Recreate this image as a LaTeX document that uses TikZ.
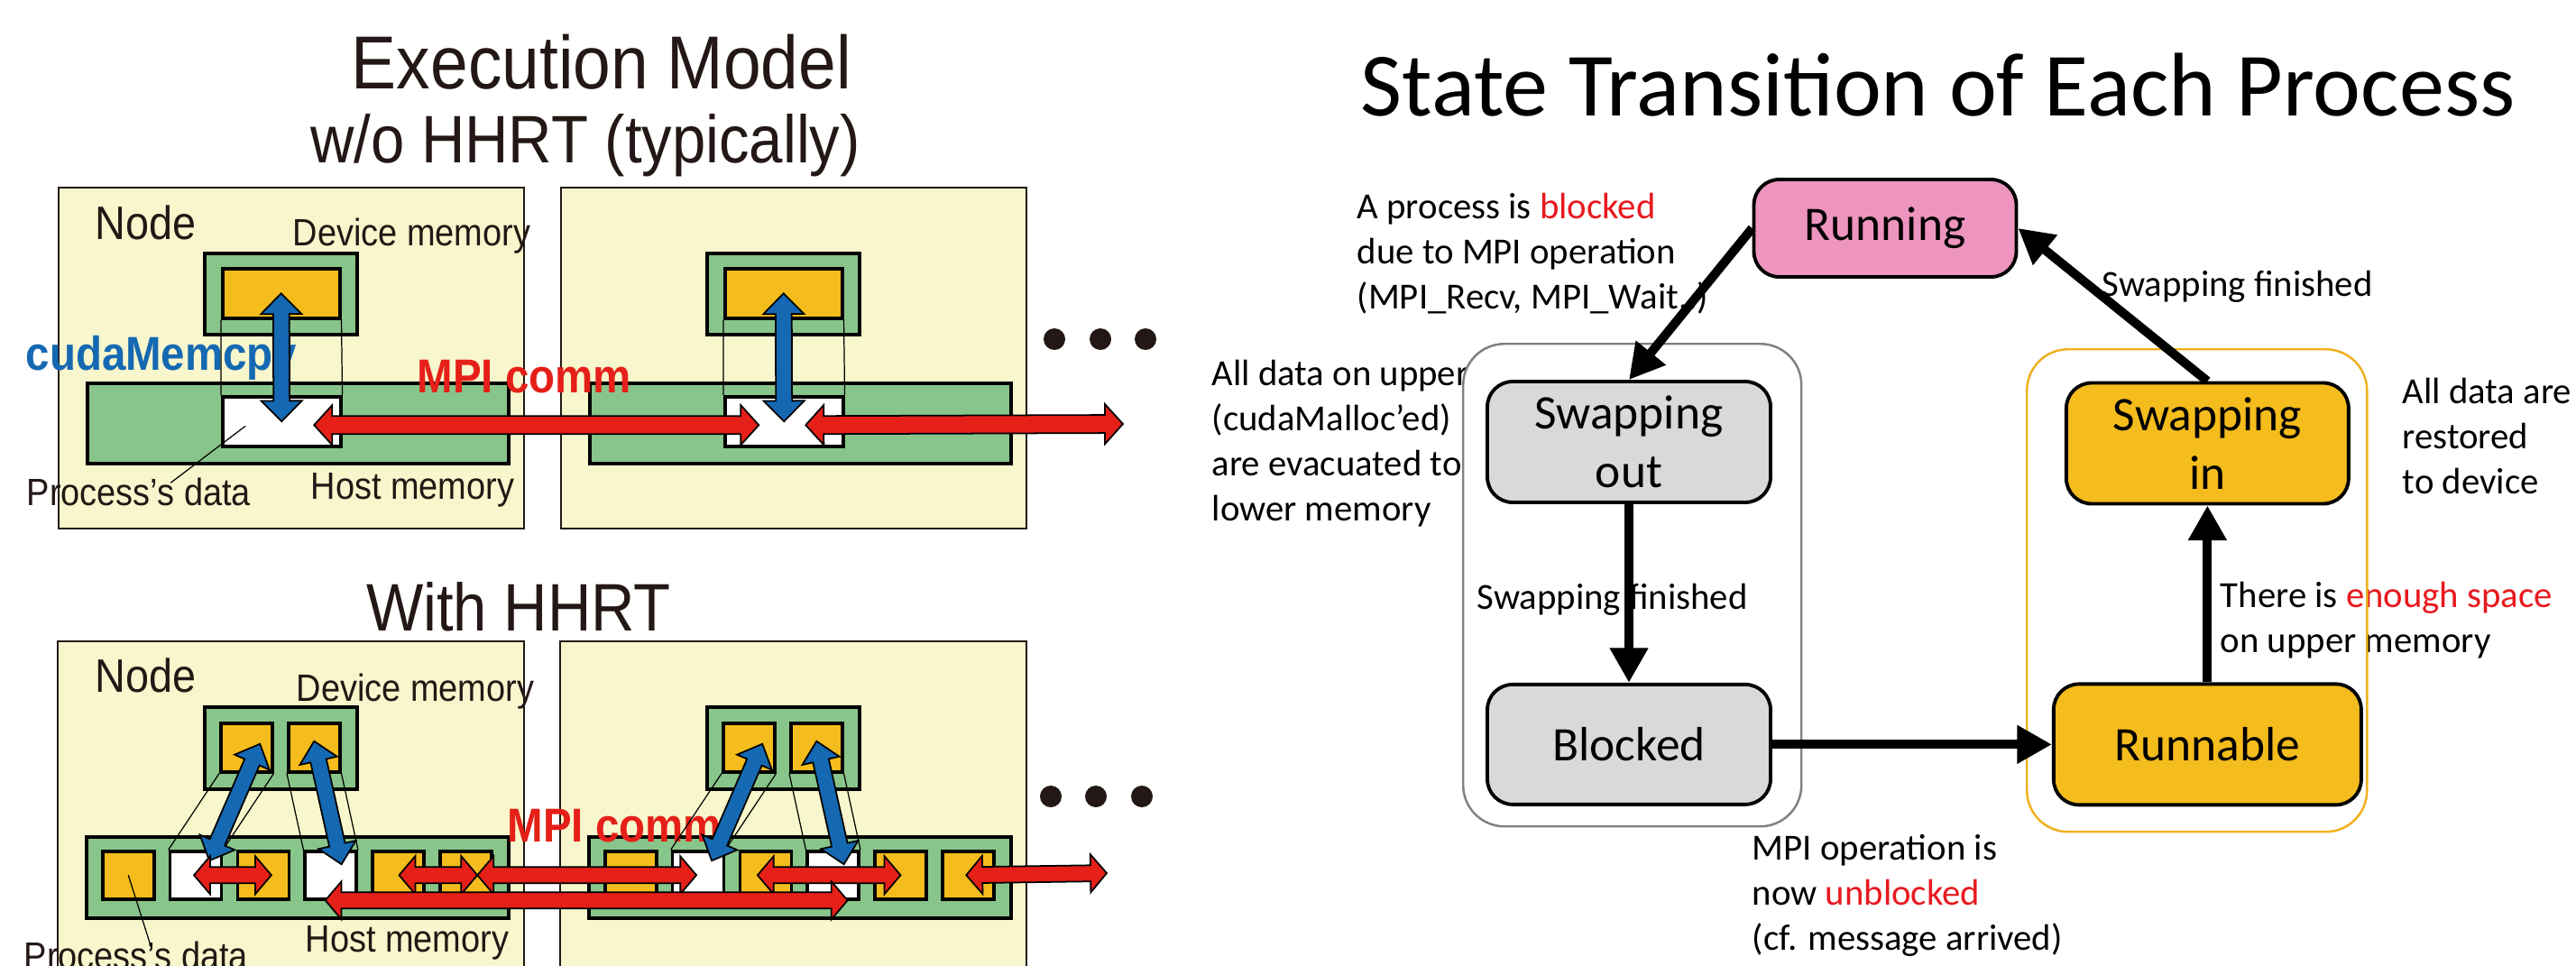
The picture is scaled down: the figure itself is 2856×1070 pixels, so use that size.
\documentclass[tikz,border=0pt]{standalone}
\usepackage{fontspec}
\setmainfont{Carlito}
\newfontfamily\hvfont[FakeStretch=0.9]{Liberation Sans}
\usepackage{xcolor}
\usepackage{tikz}
\usetikzlibrary{positioning}
\usetikzlibrary{calc,arrows.meta}

\definecolor{nodebg}{RGB}{248,246,204}
\definecolor{memgreen}{RGB}{136,197,138}
\definecolor{datayellow}{RGB}{244,188,28}
\definecolor{cudablue}{RGB}{21,105,178}
\definecolor{mpired}{RGB}{229,32,25}
\definecolor{runpink}{RGB}{237,149,190}
\definecolor{waitgrey}{RGB}{217,217,217}
\definecolor{hlred}{RGB}{232,25,30}
\definecolor{ink}{RGB}{35,24,21}
\definecolor{grpgrey}{RGB}{128,128,128}
\definecolor{grporange}{RGB}{240,176,30}

\tikzset{
  fat shaft/.store in=\fatS, fat head/.store in=\fatH, fat tip/.store in=\fatK,
  redfat/.style={draw=black, line width=0.5pt, fill=mpired, fat shaft=2.85pt, fat head=6.3pt, fat tip=5.7pt},
  redfatlow/.style={redfat, fat shaft=2.55pt, fat head=6pt, fat tip=5.1pt},
  bluefat/.style={draw=black, line width=0.5pt, fill=cudablue, fat shaft=2.55pt, fat head=6.4pt, fat tip=6.5pt},
  hostbox/.style={draw=ink, line width=0.6pt, fill=nodebg, inner sep=0pt, anchor=north west},
  mem/.style={draw=black, line width=1.1pt, fill=memgreen, inner sep=0pt, anchor=north west},
  blk/.style={draw=black, line width=1pt, fill=datayellow, inner sep=0pt, anchor=north west,
    minimum width=5.7mm, minimum height=5.4mm},
  link/.style={draw=black, line width=0.35pt},
  dot/.style={circle, fill=ink, inner sep=0pt, minimum size=2.4mm},
  hvtitle/.style={font=\hvfont\fontsize{23.7}{28}\selectfont, text=ink, inner sep=0pt, anchor=base},
  hvsub/.style={font=\hvfont\fontsize{21.2}{25}\selectfont, text=ink, inner sep=0pt, anchor=base},
  hvnode/.style={font=\hvfont\fontsize{14.8}{17}\selectfont, text=ink, inner sep=0pt, anchor=base west},
  hvmem/.style={font=\hvfont\fontsize{12}{14}\selectfont, text=ink, inner sep=0pt, anchor=base west},
  hvcmd/.style={font=\hvfont\bfseries\fontsize{15}{18}\selectfont, inner sep=0pt, anchor=base west},
  rttl/.style={font=\fontsize{28.5}{34}\selectfont, inner sep=0pt, anchor=base west},
  note/.style={font=\fontsize{11.6}{14.2}\selectfont, inner sep=0pt, anchor=base west},
  state/.style={draw=black, line width=1.1pt, rounded corners=8pt, align=center, inner sep=0pt,
    font=\fontsize{15.2}{18.5}\selectfont},
  grp/.style={rounded corners=13pt, line width=0.7pt, inner sep=0pt, anchor=north west},
  trans/.style={-{Triangle[length=11pt,width=11.5pt]}, line width=2.85pt}
}

\newcommand\fatarrow[3]{%
  \path let \p1=(#2), \p2=(#3) in \pgfextra{\xdef\fax{\x1}\xdef\fay{\y1}\xdef\fbx{\x2}\xdef\fby{\y2}};
  \pgfmathsetmacro\fang{atan2(\fby-\fay,\fbx-\fax)}%
  \pgfmathsetmacro\flen{veclen(\fbx-\fax,\fby-\fay)}%
  \draw[#1,shift={(\fax,\fay)},rotate=\fang] (0pt,0pt) -- (\fatK,\fatH) -- (\fatK,\fatS)
    -- ({\flen pt-\fatK},\fatS) -- ({\flen pt-\fatK},\fatH) -- ({\flen pt},0pt)
    -- ({\flen pt-\fatK},-\fatH) -- ({\flen pt-\fatK},-\fatS) -- (\fatK,-\fatS)
    -- (\fatK,-\fatH) -- cycle;}

\begin{document}
\begin{tikzpicture}[x=0.1mm,y=-0.1mm]
\useasboundingbox (0,0) rectangle (2856,1070);
\clip (0,0) rectangle (2856,1070);
\fill[white] (0,0) rectangle (2856,1070);

% execution model
\node[hvtitle] (exec) at (667,98) {Execution Model};
\node[hvsub] (wohhrt) at (649,180) {w/o HHRT (typically)};
\node[hvsub] (withhhrt) at (575,699) {With HHRT};

\foreach \m/\dx in {1/0,2/557}{
  \node[hostbox, minimum width=51.6mm, minimum height=37.8mm] (t\m box) at (64+\dx,207) {};
  \node[mem, minimum width=16.9mm, minimum height=9mm] (t\m dev) at (225+\dx,279) {};
  \node[blk, minimum width=13mm, minimum height=5.5mm] (t\m y) at (245+\dx,296) {};
  \node[mem, minimum width=46.7mm, minimum height=8.9mm] (t\m host) at (95+\dx,423) {};
  \node[blk, fill=white, minimum width=13.1mm, minimum height=5.5mm] (t\m d) at (245+\dx,438) {};

  \node[hostbox, minimum width=51.7mm, minimum height=40mm] (b\m box) at (63+\dx,710) {};
  \node[mem, minimum width=16.9mm, minimum height=9.1mm] (b\m dev) at (225+\dx,782) {};
  \node[blk] (b\m ya) at (243+\dx,800) {};
  \node[blk] (b\m yb) at (318+\dx,800) {};
  \node[mem, minimum width=46.8mm, minimum height=9mm] (b\m host) at (94+\dx,926) {};
  \foreach \j/\c in {1/datayellow,2/white,3/datayellow,4/white,5/datayellow,6/datayellow}
    \node[blk, fill=\c, minimum height=5.3mm] (b\m k\j) at ({112+74.8*(\j-1)+\dx},942) {};
}

\node[hvnode] (nodelbl1) at (105,265) {Node};
\node[hvmem] (devlbl1) at (324,272) {Device memory};
\node[hvmem] (hostlbl1) at (344,553) {Host memory};
\node[hvmem] (datalbl1) at (29,560) {Process’s data};
\node[hvcmd, text=cudablue] (cudalbl) at (28,410) {cudaMemcpy};
\node[hvcmd, text=mpired] (mpilbl1) at (462,435) {MPI comm};

\node[hvnode] (nodelbl2) at (105,767) {Node};
\node[hvmem] (devlbl2) at (328,777) {Device memory};
\node[hvmem] (hostlbl2) at (338,1055) {Host memory};
\node[hvmem] (datalbl2) at (26,1074) {Process’s data};
\node[hvcmd, text=mpired] (mpilbl2) at (562,933) {MPI comm};

\foreach \m in {1,2}{
  \draw[link] (t\m y.south west) -- (t\m d.north west) (t\m y.south east) -- (t\m d.north east);
  \draw[link] (b\m ya.south west) -- (b\m k2.north west) (b\m ya.south east) -- (b\m k2.north east)
    (b\m yb.south west) -- (b\m k4.north west) (b\m yb.south east) -- (b\m k4.north east);
}
\draw[link] ($(t1d.center)+(-40,5)$) -- ++(-83,63);
\draw[link] (b1k1.center) -- ++(26,82);

\foreach \m in {1,2}{
  \fatarrow{bluefat}{t\m y.center}{t\m d.center}
  \fatarrow{bluefat, fat head=6pt, fat tip=6.3pt}{$(b\m ya.center)+(15,-4)$}{$(b\m k2.center)+(15,-16)$}
  \fatarrow{bluefat, fat head=6pt, fat tip=6.3pt}{$(b\m yb.center)+(0,-7)$}{$(b\m k4.center)+(12,-12)$}
}

\coordinate (mpiend1) at (1245,470);
\coordinate (mpiend2) at (1227,968);
\fatarrow{redfat}{$(t1d.center)+(36,4)$}{$(t2d.center)+(-28,4)$}
\fatarrow{redfat}{$(t2d.center)+(24,4)$}{mpiend1}

\fatarrow{redfatlow}{$(b1k2.center)+(-2,0)$}{$(b1k3.center)+(9,0)$}
\fatarrow{redfatlow}{$(b1k5.center)+(1,0)$}{$(b1k6.center)+(13,0)$}
\fatarrow{redfatlow}{$(b1k6.center)+(13,0)$}{$(b2k2.center)+(-2,0)$}
\fatarrow{redfatlow}{$(b2k3.center)+(-9,0)$}{b2k5.center}
\fatarrow{redfatlow}{$(b2k6.center)+(-2,0)$}{mpiend2}
\fatarrow{redfatlow}{$(b1k4.center)+(-6,28)$}{$(b2k4.center)+(16,28)$}

\foreach \m/\x/\y in {1/1169/376,2/1220/376,3/1270/376,4/1165/883,5/1215/883,6/1266/883}
  \node[dot] (dot\m) at (\x,\y) {};

% state transition
\node[rttl] (sttitle) at (1508,128) {State Transition of Each Process};

\foreach \t [count=\r from 0] in {A process is \textcolor{hlred}{blocked}, due to MPI operation, {(MPI\_Recv, MPI\_Wait..)}}
  \node[note] (why\r) at (1504,{242+50*\r}) {\t};
\foreach \t [count=\r from 0] in {All data on upper, {(cudaMalloc’ed)}, are evacuated to, lower memory}
  \node[note] (evac\r) at (1343,{427+50*\r}) {\t};
\foreach \t [count=\r from 0] in {All data are, restored, to device}
  \node[note] (rest\r) at (2663,{447+50*\r}) {\t};
\foreach \t [count=\r from 0] in {MPI operation is, now \textcolor{hlred}{unblocked}, {(cf. message arrived)}}
  \node[note] (unbl\r) at (1942,{953+50*\r}) {\t};
\foreach \t [count=\r from 0] in {There is \textcolor{hlred}{enough space}, on upper memory}
  \node[note] (space\r) at (2461,{673+50*\r}) {\t};

\node[grp, draw=grpgrey, fill=white, minimum width=37.5mm, minimum height=53.5mm] (outgrp) at (1621,380) {};
\node[grp, draw=grporange, minimum width=37.7mm, minimum height=53.5mm] (ingrp) at (2246,386) {};

\node[state, fill=runpink, minimum width=29.1mm, minimum height=10.8mm] (running) at (2090,253) {Running};
\node[state, fill=waitgrey, minimum width=31.4mm, minimum height=13.4mm] (swapout) at (1806,490) {Swapping\\out};
\node[state, fill=waitgrey, minimum width=31.4mm, minimum height=13.3mm] (blocked) [below=19.8mm of swapout] {Blocked};
\node[state, fill=datayellow, minimum width=34.1mm, minimum height=13.4mm] (runnable) [right=31mm of blocked] {Runnable};
\node[state, fill=datayellow, minimum width=31.3mm, minimum height=13.4mm] (swapin) [above=19.6mm of runnable] {Swapping\\in};

\node[note] (fin1) at (1637,675) {Swapping finished};
\node[note] (fin2) at (2330,328) {Swapping finished};

\draw[trans] (running.west) -- (swapout.north);
\draw[trans] (swapout.south) -- (blocked.north);
\draw[trans] (blocked.east) -- (runnable.west);
\draw[trans] (runnable.north) -- (swapin.south);
\draw[trans] (swapin.north) -- (running.east);
\end{tikzpicture}
\end{document}
